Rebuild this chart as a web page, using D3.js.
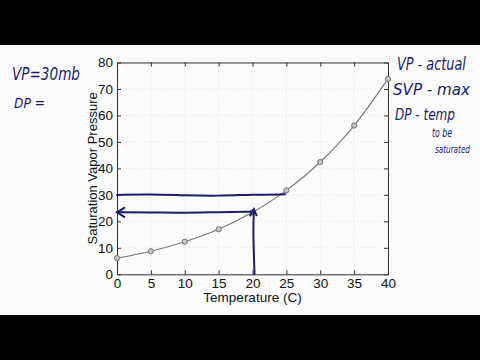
<!DOCTYPE html>
<html>
<head>
<meta charset="utf-8">
<script src="https://cdn.jsdelivr.net/npm/d3@7"></script>
<style>
  html, body { margin: 0; padding: 0; background: #000; }
  svg { display: block; }
</style>
</head>
<body>
<div id="chart"></div>
<script>
// Données
const temperatures = [0, 5, 10, 15, 20, 25, 30, 35, 40];
const svpValues = [6.1, 8.7, 12.3, 17.0, 23.4, 31.7, 42.4, 56.2, 73.8];
const xTicks = [0, 5, 10, 15, 20, 25, 30, 35, 40];
const yTicks = [0, 10, 20, 30, 40, 50, 60, 70, 80];

// Annotations manuscrites (en unités de données)
const vpLine = [[0, 30.0], [5, 30.2], [10, 29.8], [15, 29.6], [20, 30.1], [24.8, 30.2]];
const dpUp = [[20.3, 0], [20.2, 8], [20.1, 16], [20.2, 24.6]];
const dpLeft = [[19.8, 23.6], [15, 23.5], [10, 23.2], [5, 23.4], [0, 23.4]];
const notesLeft = ["VP=30mb", "DP ="];
const notesRight = ["VP - actual", "SVP - max", "DP - temp", "to be", "saturated"];

const width = 480, height = 360;
const svg = d3.select("#chart").append("svg")
    .attr("width", width)
    .attr("height", height);

// Zone vidéo (bandes noires en haut et en bas)
svg.append("rect")
    .attr("x", 0).attr("y", 45)
    .attr("width", width).attr("height", 270)
    .attr("fill", "#fbfbfb");

const pLeft = 117, pRight = 388, pTop = 62.5, pBottom = 274.3;
const x = d3.scaleLinear().domain([0, 40]).range([pLeft, pRight]);
const y = d3.scaleLinear().domain([0, 80]).range([pBottom, pTop]);

// Grille
svg.append("g").selectAll("line")
    .data(xTicks.slice(1, -1))
    .join("line")
    .attr("x1", d => x(d)).attr("x2", d => x(d))
    .attr("y1", pTop).attr("y2", pBottom)
    .attr("stroke", "#e4e4e4").attr("stroke-dasharray", "1,2");
svg.append("g").selectAll("line")
    .data(yTicks.slice(1, -1))
    .join("line")
    .attr("y1", d => y(d)).attr("y2", d => y(d))
    .attr("x1", pLeft).attr("x2", pRight)
    .attr("stroke", "#e4e4e4").attr("stroke-dasharray", "1,2");

// Axes (ticks vers l'intérieur, boîte complète)
const fontAxis = "Liberation Sans, Arial, sans-serif";
const ax = [
    [d3.axisBottom(x), `translate(0,${pBottom})`, true],
    [d3.axisTop(x), `translate(0,${pTop})`, false],
    [d3.axisLeft(y), `translate(${pLeft},0)`, true],
    [d3.axisRight(y), `translate(${pRight},0)`, false]
];
ax.forEach(([axis, tr, labels], i) => {
    const g = svg.append("g")
        .attr("transform", tr)
        .call(axis.tickValues(i < 2 ? xTicks : yTicks)
            .tickSizeInner(-4).tickSizeOuter(0).tickPadding(labels ? 4 : 0)
            .tickFormat(labels ? d3.format("d") : ""));
    g.select(".domain").attr("stroke", "#333");
    g.selectAll(".tick line").attr("stroke", "#333");
    g.selectAll("text")
        .attr("fill", "#111")
        .style("font-family", fontAxis)
        .style("font-size", "13.5px");
});

// Titres des axes
svg.append("text")
    .attr("x", (pLeft + pRight) / 2).attr("y", 302)
    .attr("text-anchor", "middle")
    .style("font-family", fontAxis).style("font-size", "13.5px")
    .attr("fill", "#111")
    .text("Temperature (C)");
svg.append("text")
    .attr("transform", `translate(97,${(pTop + pBottom) / 2}) rotate(-90)`)
    .attr("text-anchor", "middle")
    .style("font-family", fontAxis).style("font-size", "13px")
    .attr("fill", "#111")
    .text("Saturation Vapor Pressure");

// Courbe
const data = temperatures.map((t, i) => ({ t: t, v: svpValues[i] }));
svg.append("path")
    .datum(data)
    .attr("d", d3.line().x(d => x(d.t)).y(d => y(d.v)).curve(d3.curveMonotoneX))
    .attr("fill", "none")
    .attr("stroke", "#7a7a7a")
    .attr("stroke-width", 1.2);
svg.append("g").selectAll("circle")
    .data(data)
    .join("circle")
    .attr("cx", d => x(d.t)).attr("cy", d => y(d.v))
    .attr("r", 2.6)
    .attr("fill", "#c8c8c8")
    .attr("stroke", "#707070");

// Traits à la main
const ink = "#1c1c6a";
const hand = d3.line().x(d => x(d[0])).y(d => y(d[1])).curve(d3.curveBasis);
[vpLine, dpUp, dpLeft].forEach(p => {
    svg.append("path")
        .attr("d", hand(p))
        .attr("fill", "none")
        .attr("stroke", ink)
        .attr("stroke-width", 2)
        .attr("stroke-linecap", "round");
});
// pointes de flèche
const tipUp = dpUp[dpUp.length - 1], tipLeft = dpLeft[dpLeft.length - 1];
svg.append("path")
    .attr("d", `M${x(tipUp[0]) - 4},${y(tipUp[1]) + 7}L${x(tipUp[0])},${y(tipUp[1])}L${x(tipUp[0]) + 3},${y(tipUp[1]) + 7}`)
    .attr("fill", "none").attr("stroke", ink).attr("stroke-width", 2);
svg.append("path")
    .attr("d", `M${x(tipLeft[0]) + 8},${y(tipLeft[1]) - 5}L${x(tipLeft[0])},${y(tipLeft[1])}L${x(tipLeft[0]) + 8},${y(tipLeft[1]) + 5}`)
    .attr("fill", "none").attr("stroke", ink).attr("stroke-width", 2);

// Notes manuscrites : [x, y (ligne de base), taille, largeur]
const fontHand = "Liberation Sans Narrow, DejaVu Sans Condensed, sans-serif";
const notes = notesLeft.concat(notesRight);
const notePos = [
    [12, 80, 18, 68], [14, 108, 14, 31],
    [397, 70, 17, 69], [393, 95, 15, 77], [395, 120, 15, 60],
    [432, 137, 12, 20], [435, 153, 11, 35]
];
svg.selectAll(".note")
    .data(notes)
    .join("text")
    .attr("class", "note")
    .attr("fill", ink)
    .style("font-family", fontHand).style("font-style", "italic")
    .style("font-size", (d, i) => notePos[i][2] + "px")
    .text(d => d)
    .attr("transform", function (d, i) {
        // étirer/comprimer pour obtenir la largeur voulue
        const w = this.getComputedTextLength() || notePos[i][3];
        return `translate(${notePos[i][0]},${notePos[i][1]}) scale(${notePos[i][3] / w},1)`;
    });
</script>
</body>
</html>
